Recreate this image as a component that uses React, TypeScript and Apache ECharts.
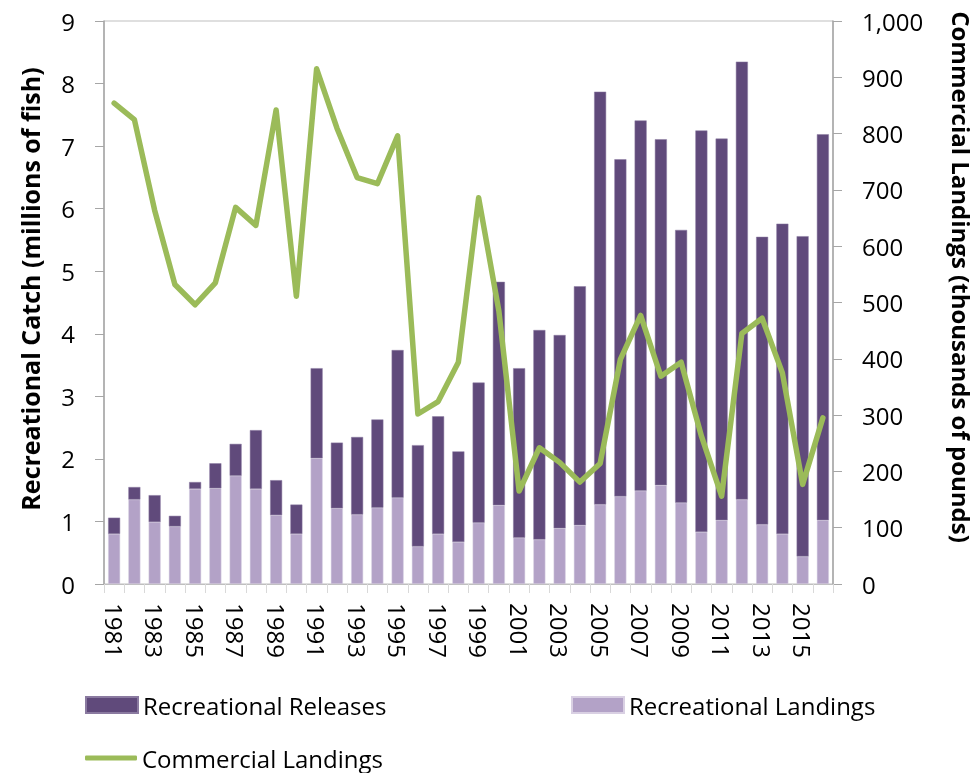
import React, { useEffect, useRef } from "react";
import * as echarts from "echarts";

const years = [
  "1981","1982","1983","1984","1985","1986","1987","1988","1989","1990",
  "1991","1992","1993","1994","1995","1996","1997","1998","1999","2000",
  "2001","2002","2003","2004","2005","2006","2007","2008","2009","2010",
  "2011","2012","2013","2014","2015","2016",
];

// millions of fish
const recLandings = [
  0.80, 1.35, 0.99, 0.92, 1.52, 1.53, 1.73, 1.52, 1.10, 0.80,
  2.01, 1.21, 1.11, 1.22, 1.38, 0.60, 0.80, 0.67, 0.98, 1.26,
  0.74, 0.71, 0.89, 0.94, 1.27, 1.40, 1.49, 1.58, 1.30, 0.83,
  1.02, 1.35, 0.95, 0.80, 0.44, 1.02,
];

const recReleases = [
  0.26, 0.20, 0.43, 0.17, 0.11, 0.40, 0.51, 0.94, 0.56, 0.47,
  1.44, 1.05, 1.24, 1.41, 2.36, 1.62, 1.88, 1.45, 2.24, 3.57,
  2.71, 3.35, 3.09, 3.82, 6.60, 5.39, 5.92, 5.53, 4.36, 6.42,
  6.10, 7.00, 4.60, 4.96, 5.12, 6.17,
];

// thousands of pounds
const commLandings = [
  854, 825, 664, 532, 496, 535, 669, 637, 842, 511,
  915, 810, 722, 711, 796, 302, 324, 394, 686, 485,
  165, 242, 216, 181, 214, 399, 477, 369, 394, 263,
  156, 445, 472, 375, 177, 295,
];

const leftTicks = { min: 0, max: 9, interval: 1 };
const rightTicks = { min: 0, max: 1000, interval: 100 };

const FONT = "'Open Sans', 'DejaVu Sans', sans-serif";
const DARK = "#604a7b";
const LIGHT = "#b3a2c7";
const GREEN = "#9bbb59";

export default function App() {
  const ref = useRef<HTMLDivElement>(null);

  useEffect(() => {
    if (!ref.current) return;
    const chart = echarts.init(ref.current, null, { renderer: "svg" });
    const legendText = { fontFamily: FONT, fontSize: 24, lineHeight: 24, color: "#000" };
    chart.setOption({
      animation: false,
      textStyle: { fontFamily: FONT },
      grid: {
        left: 104,
        right: 144,
        top: 21,
        bottom: 189,
        show: true,
        borderColor: "#bfbfbf",
        borderWidth: 1,
      },
      legend: [
        {
          data: ["Recreational Releases"],
          left: 85,
          top: 693,
          padding: 0,
          itemWidth: 52,
          itemHeight: 16,
          icon: "rect",
          textStyle: legendText,
        },
        {
          data: ["Recreational Landings"],
          left: 571,
          top: 693,
          padding: 0,
          itemWidth: 52,
          itemHeight: 16,
          icon: "rect",
          textStyle: legendText,
        },
        {
          data: ["Commercial Landings"],
          left: 85,
          top: 746,
          padding: 0,
          itemWidth: 52,
          itemHeight: 5,
          icon: "roundRect",
          textStyle: legendText,
        },
      ],
      xAxis: {
        type: "category",
        data: years,
        boundaryGap: true,
        axisLine: { lineStyle: { color: "#bfbfbf", width: 1 } },
        axisTick: {
          show: true,
          alignWithLabel: false,
          interval: 0,
          length: 9,
          lineStyle: { color: "#d9d9d9" },
        },
        axisLabel: {
          interval: 1,
          rotate: -90,
          margin: 19,
          fontSize: 24,
          color: "#000",
          fontFamily: FONT,
        },
      },
      yAxis: [
        {
          type: "value",
          ...leftTicks,
          position: "left",
          axisLine: { show: true, lineStyle: { color: "#a6a6a6", width: 1.5 } },
          axisTick: { show: true, length: 9, lineStyle: { color: "#a6a6a6" } },
          splitLine: { show: false },
          axisLabel: { margin: 29, fontSize: 24, color: "#000", fontFamily: FONT },
        },
        {
          type: "value",
          ...rightTicks,
          position: "right",
          axisLine: { show: true, lineStyle: { color: "#a6a6a6", width: 1.5 } },
          axisTick: { show: true, length: 9, lineStyle: { color: "#a6a6a6" } },
          splitLine: { show: false },
          axisLabel: {
            margin: 29,
            fontSize: 24,
            color: "#000",
            fontFamily: FONT,
            formatter: (v: number) => v.toLocaleString("en-US"),
          },
        },
      ],
      series: [
        {
          name: "Recreational Landings",
          type: "bar",
          stack: "rec",
          yAxisIndex: 0,
          data: recLandings,
          barWidth: 12,
          itemStyle: { color: LIGHT, borderColor: "#d9d0e3", borderWidth: 0.5 },
        },
        {
          name: "Recreational Releases",
          type: "bar",
          stack: "rec",
          yAxisIndex: 0,
          data: recReleases,
          barWidth: 12,
          itemStyle: { color: DARK, borderColor: "#8a7aa0", borderWidth: 0.5 },
        },
        {
          name: "Commercial Landings",
          type: "line",
          yAxisIndex: 1,
          data: commLandings,
          showSymbol: false,
          symbol: "none",
          lineStyle: { color: GREEN, width: 5.5, cap: "round", join: "round" },
          itemStyle: { color: GREEN },
          z: 5,
        },
      ],
      graphic: [
        {
          type: "text",
          x: 30,
          y: 289,
          rotation: Math.PI / 2,
          style: {
            text: "Recreational Catch (millions of fish)",
            align: "center",
            verticalAlign: "middle",
            font: `bold 25px ${FONT}`,
            fill: "#000",
          },
        },
        {
          type: "text",
          x: 961,
          y: 277,
          rotation: -Math.PI / 2,
          style: {
            text: "Commercial Landings (thousands of pounds)",
            align: "center",
            verticalAlign: "middle",
            font: `bold 24px ${FONT}`,
            fill: "#000",
          },
        },
      ],
    });
    return () => chart.dispose();
  }, []);

  return (
    <div
      ref={ref}
      style={{ width: 977, height: 773, position: "fixed", left: 0, top: 0 }}
    />
  );
}
